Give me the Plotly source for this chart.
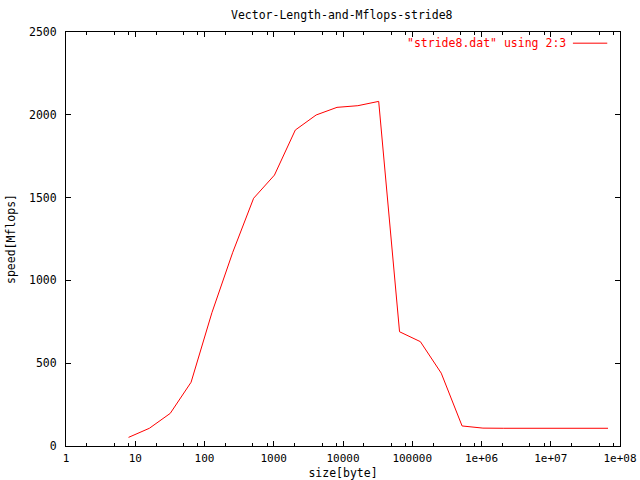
import plotly.graph_objects as go

# vector size in bytes and measured speed
sizes = [8, 16, 32, 64, 128, 256, 512, 1024, 2048, 4096, 8192, 16384, 32768,
         65536, 131072, 262144, 524288, 1048576, 2097152, 4194304, 8388608,
         16777216, 33554432, 67108864]
mflops = [52, 107, 197, 385, 805, 1170, 1496, 1636, 1908, 1999, 2045, 2055, 2081,
          690, 630, 440, 121, 108, 107, 107, 107, 107, 107, 107]

x_tickvals = [1, 10, 100, 1000, 10000, 100000, 1e6, 1e7, 1e8]
x_ticktext = ['1', '10', '100', '1000', '10000', '100000', '1e+06', '1e+07', '1e+08']
x_minor = [m * 10 ** d for d in range(8) for m in (2, 5, 8)]
y_tickvals = [0, 500, 1000, 1500, 2000, 2500]

font = 'DejaVu Sans Mono'
fsize = 11.5

fig = go.Figure()
fig.add_trace(go.Scatter(
    x=sizes,
    y=mflops,
    mode='lines',
    name='"stride8.dat" using 2:3',
    line=dict(color='#ff0000', width=1),
    showlegend=False
))

# gnuplot style key: text then line sample on the right
fig.add_annotation(
    x=0.906, y=0.973, xref='paper', yref='paper',
    text='"stride8.dat" using 2:3', showarrow=False,
    xanchor='right', yanchor='middle',
    font=dict(family=font, size=fsize, color='#ff0000')
)
fig.add_shape(
    type='line', xref='paper', yref='paper',
    x0=0.915, x1=0.977, y0=0.973, y1=0.973,
    line=dict(color='#ff0000', width=1)
)

fig.update_layout(
    width=640,
    height=480,
    title=dict(text='Vector-Length-and-Mflops-stride8', x=0.534, xanchor='center',
               y=0.968, yanchor='middle', font=dict(family=font, size=fsize, color='black')),
    paper_bgcolor='white',
    plot_bgcolor='white',
    margin=dict(l=66, r=20, t=32, b=34, autoexpand=False),
    font=dict(family=font, size=fsize, color='black'),
    xaxis=dict(
        type='log',
        range=[0, 8],
        automargin=False,
        tickvals=x_tickvals,
        ticktext=x_ticktext,
        ticks='inside',
        ticklen=5,
        tickcolor='black',
        showline=True,
        linecolor='black',
        linewidth=1,
        mirror='ticks',
        showgrid=False,
        zeroline=False,
        minor=dict(tickvals=x_minor, ticks='inside', ticklen=3, tickcolor='black', showgrid=False),
        title=dict(text='size[byte]', standoff=7, font=dict(family=font, size=fsize)),
        tickfont=dict(family=font, size=11),
        ticklabelstandoff=2
    ),
    yaxis=dict(
        range=[0, 2500],
        automargin=False,
        tickvals=y_tickvals,
        ticks='inside',
        ticklen=5,
        tickcolor='black',
        showline=True,
        linecolor='black',
        linewidth=1,
        mirror='ticks',
        showgrid=False,
        zeroline=False,
        title=dict(text='speed[Mflops]', standoff=10, font=dict(family=font, size=fsize)),
        tickfont=dict(family=font, size=fsize),
        ticklabelstandoff=6
    )
)

fig.write_html("out.html", config={'displayModeBar': False},
               post_script="document.body.style.margin='0';")
